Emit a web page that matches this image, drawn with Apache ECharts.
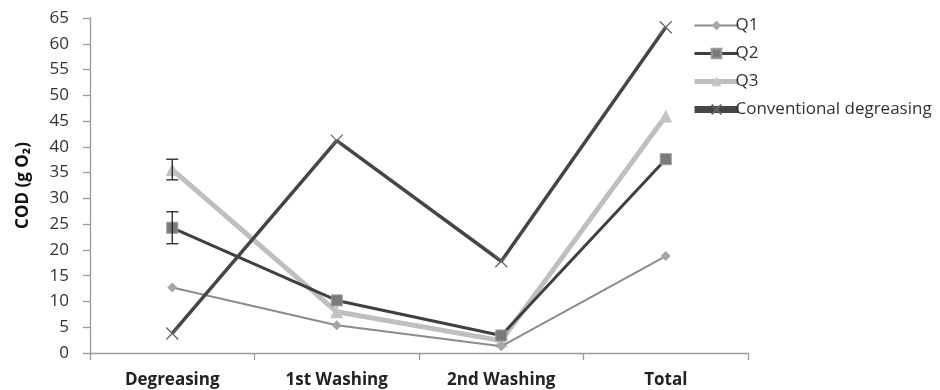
<!DOCTYPE html>
<html>
<head>
<meta charset="utf-8">
<script src="https://cdn.jsdelivr.net/npm/echarts@6/dist/echarts.min.js"></script>
<style>
  html, body { margin: 0; padding: 0; background: #fff; }
  #chart { width: 940px; height: 390px; }
</style>
</head>
<body>
<div id="chart"></div>
<script>
// Process stages on the category axis
const stages = ['Degreasing', '1st Washing', '2nd Washing', 'Total'];

// COD per stage (g O2)
const q1 = [12.7, 5.4, 1.3, 18.8];
const q2 = [24.3, 10.2, 3.4, 37.6];
const q3 = [35.6, 8.0, 2.4, 46.0];
const conventional = [3.8, 41.2, 17.8, 63.2];

// Standard deviation shown as error bars (null = none drawn)
const q2Err = [3.1, null, null, null];
const q3Err = [2.0, null, null, null];

const yTicks = { min: 0, max: 65, interval: 5 };

function errorBars(values, errs) {
  const out = [];
  values.forEach((v, i) => {
    if (errs[i] != null) out.push([i, v - errs[i], v + errs[i]]);
  });
  return out;
}

function renderErrorBar(params, api) {
  const lo = api.coord([api.value(0), api.value(1)]);
  const hi = api.coord([api.value(0), api.value(2)]);
  const cap = 6;
  const style = { stroke: '#222', lineWidth: 1.3 };
  return {
    type: 'group',
    children: [
      { type: 'line', shape: { x1: lo[0], y1: lo[1], x2: hi[0], y2: hi[1] }, style },
      { type: 'line', shape: { x1: lo[0] - cap, y1: lo[1], x2: lo[0] + cap, y2: lo[1] }, style },
      { type: 'line', shape: { x1: hi[0] - cap, y1: hi[1], x2: hi[0] + cap, y2: hi[1] }, style }
    ]
  };
}

const font = '"Open Sans", "Liberation Sans", sans-serif';
const crossPath = 'path://M0,0L10,10M10,0L0,10';

const styles = {
  q1: { line: '#8c8c8c', width: 2 },
  q2: { line: '#404040', width: 3 },
  q3: { line: '#bfbfbf', width: 5 },
  conv: { line: '#454545', width: 3.5 }
};

const chart = echarts.init(document.getElementById('chart'));
chart.setOption({
  animation: false,
  backgroundColor: '#fff',
  textStyle: { fontFamily: font },
  grid: { left: 90, right: 192, top: 18, bottom: 37 },
  legend: {
    orient: 'vertical',
    left: 686,
    top: 12,
    itemWidth: 44,
    itemHeight: 12,
    itemGap: 11,
    textStyle: { fontFamily: font, fontSize: 17, color: '#333', padding: [0, 0, 0, -8] },
    data: [
      { name: 'Q1', lineStyle: { width: styles.q1.width } },
      { name: 'Q2', lineStyle: { width: styles.q2.width } },
      { name: 'Q3', lineStyle: { width: styles.q3.width } },
      { name: 'Conventional degreasing', lineStyle: { width: 7 } }
    ]
  },
  xAxis: {
    type: 'category',
    data: stages,
    boundaryGap: true,
    axisLine: { lineStyle: { color: '#9a9a9a', width: 1.3 } },
    axisTick: { show: true, length: 7, alignWithLabel: false, lineStyle: { color: '#9a9a9a', width: 1.3 } },
    axisLabel: { fontFamily: font, fontSize: 17, fontWeight: 'bold', color: '#222', margin: 19 }
  },
  yAxis: {
    type: 'value',
    min: yTicks.min,
    max: yTicks.max,
    interval: yTicks.interval,
    name: 'COD (g O₂)',
    nameLocation: 'middle',
    nameRotate: 90,
    nameGap: 58,
    nameTextStyle: { fontFamily: font, fontSize: 17, fontWeight: 'bold', color: '#111' },
    axisLine: { show: true, lineStyle: { color: '#9a9a9a', width: 1.3 } },
    axisTick: { show: true, length: 7, lineStyle: { color: '#9a9a9a', width: 1.3 } },
    splitLine: { show: false },
    axisLabel: { fontFamily: font, fontSize: 17, color: '#333', margin: 21 }
  },
  series: [
    {
      name: 'Q1', type: 'line', data: q1, z: 3,
      symbol: 'diamond', symbolSize: 10,
      lineStyle: { color: styles.q1.line, width: styles.q1.width },
      itemStyle: { color: '#a6a6a6' }
    },
    {
      name: 'Q2', type: 'line', data: q2, z: 4,
      symbol: 'rect', symbolSize: 11,
      lineStyle: { color: styles.q2.line, width: styles.q2.width },
      itemStyle: { color: '#7a7a7a', borderColor: '#9a9a9a', borderWidth: 1 }
    },
    {
      name: 'Q3', type: 'line', data: q3, z: 2,
      symbol: 'triangle', symbolSize: 13,
      lineStyle: { color: styles.q3.line, width: styles.q3.width },
      itemStyle: { color: '#c4c4c4' }
    },
    {
      name: 'Conventional degreasing', type: 'line', data: conventional, z: 5,
      symbol: crossPath, symbolSize: 12,
      lineStyle: { color: styles.conv.line, width: styles.conv.width },
      itemStyle: { color: 'rgba(0,0,0,0)', borderColor: '#666', borderWidth: 1.3 }
    },
    {
      type: 'custom', name: 'Q2 err', data: errorBars(q2, q2Err), z: 6,
      renderItem: renderErrorBar, encode: { x: 0, y: [1, 2] }, silent: true
    },
    {
      type: 'custom', name: 'Q3 err', data: errorBars(q3, q3Err), z: 6,
      renderItem: renderErrorBar, encode: { x: 0, y: [1, 2] }, silent: true
    }
  ]
});
</script>
</body>
</html>
